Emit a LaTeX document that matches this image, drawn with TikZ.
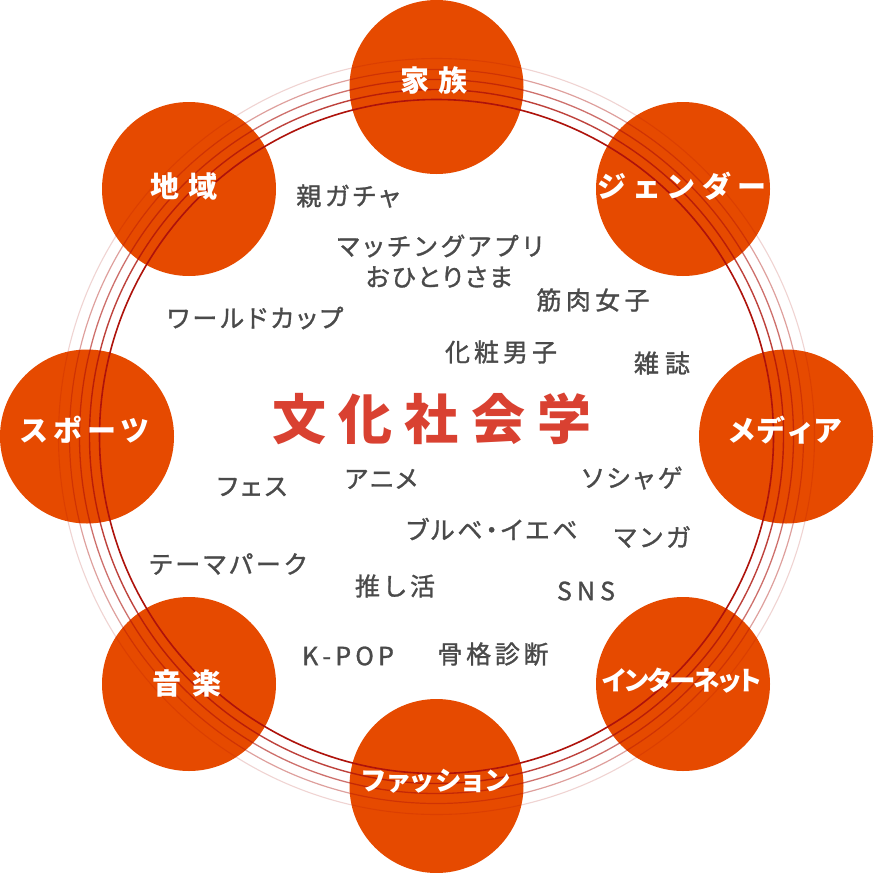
\documentclass[tikz,border=0pt]{standalone}
\usepackage{fontspec}
\newfontfamily\jp[RawFeature=+palt]{Noto Sans CJK JP}
\newfontfamily\jpm[RawFeature=+palt,FakeBold=1.2]{Noto Sans CJK JP}
\definecolor{circ}{HTML}{E64A00}
\definecolor{ringc}{HTML}{AE120B}
\definecolor{titlec}{HTML}{D94131}
\definecolor{wordc}{HTML}{4A4A4A}
\makeatletter
\newdimen\sp@w \newdimen\sp@k \newcount\sp@n
\newcommand\spread[2]{%
  \settowidth\sp@w{#2}%
  \sp@n=0 \@tfor\sp@x:=#2\do{\advance\sp@n by 1 }%
  \ifnum\sp@n>1 \sp@k=\dimexpr(#1-\sp@w)/\numexpr\sp@n-1\relax\relax\else\sp@k=0pt\fi
  \sp@n=0 %
  \@tfor\sp@x:=#2\do{\ifnum\sp@n>0 \kern\sp@k\fi\sp@x\advance\sp@n by 1 }%
}
\makeatother
\tikzset{
  bigc/.style={circle, fill=circ, minimum size=174pt, inner sep=0pt, draw=none},
  clabel/.style={text=white, inner sep=0pt, font=\jp\bfseries\fontsize{29}{29}\selectfont},
  clabels/.style={clabel, font=\jp\bfseries\fontsize{26.5}{26.5}\selectfont},
  word/.style={text=wordc, inner sep=0pt, font=\jpm\fontsize{25}{25}\selectfont},
  titletext/.style={text=titlec, inner sep=0pt, font=\jp\bfseries\fontsize{54}{54}\selectfont},
  ringa/.style={draw=ringc, line width=1.6pt, draw opacity=1},
  ringb/.style={draw=ringc, line width=1.4pt, draw opacity=0.8},
  ringcc/.style={draw=ringc, line width=1.3pt, draw opacity=0.6},
  ringd/.style={draw=ringc, line width=1.2pt, draw opacity=0.4},
  ringe/.style={draw=ringc, line width=1.1pt, draw opacity=0.18}
}
\begin{document}
\begin{tikzpicture}[x=1pt,y=-1pt]
\useasboundingbox (0,0) rectangle (873,873);
\fill[white] (0,0) rectangle (873,873);
\coordinate (o) at (436.5,436.5);
% circles
\node[bigc] (c1) at (436.5,87) {};
\node[bigc] (c2) at (683,189) {};
\node[bigc] (c3) at (786,436.5) {};
\node[bigc] (c4) at (683,684) {};
\node[bigc] (c5) at (436.5,786) {};
\node[bigc] (c6) at (189,684) {};
\node[bigc] (c7) at (87,436.5) {};
\node[bigc] (c8) at (189,189) {};
% rings
\draw[ringa] (o) circle[radius=337];
\draw[ringb] (o) circle[radius=347];
\draw[ringcc] (o) circle[radius=357];
\draw[ringd] (o) circle[radius=367];
\draw[ringe] (o) circle[radius=378];
% circle labels
\node[clabel] (l1) at (434,80) {\spread{68pt}{家族}};
\node[clabel] (l2) at (682,186) {\spread{168pt}{ジェンダー}};
\node[clabel] (l3) at (785,430) {\spread{110pt}{メディア}};
\node[clabels] (l4) at (682,681) {\spread{160pt}{インターネット}};
\node[clabels] (l5) at (436,781) {\spread{148pt}{ファッション}};
\node[clabel] (l6) at (187,683) {\spread{70pt}{音楽}};
\node[clabel] (l7) at (85,430) {\spread{128pt}{スポーツ}};
\node[clabel] (l8) at (184,186) {\spread{68pt}{地域}};
% title
\node[titletext] (t) at (432,419) {\spread{320pt}{文化社会学}};
% keywords
\node[word] (k1) at (348,196) {\spread{103pt}{親ガチャ}};
\node[word] (k2) at (440,246) {\spread{206pt}{マッチングアプリ}};
\node[word] (k3) at (439,277) {\spread{146pt}{おひとりさま}};
\node[word] (k4) at (593,300) {\spread{113pt}{筋肉女子}};
\node[word] (k5) at (255,318) {\spread{176pt}{ワールドカップ}};
\node[word] (k6) at (501,352) {\spread{112pt}{化粧男子}};
\node[word] (k7) at (662,363) {\spread{56pt}{雑誌}};
\node[word] (k8) at (252,487) {\spread{70pt}{フェス}};
\node[word] (k9) at (381,479) {\spread{72pt}{アニメ}};
\node[word] (k10) at (632,478) {\spread{100pt}{ソシャゲ}};
\node[word] (k11) at (492,529) {\spread{171pt}{ブルベ・イエベ}};
\node[word] (k12) at (652,537) {\spread{76pt}{マンガ}};
\node[word] (k13) at (228,564) {\spread{157pt}{テーマパーク}};
\node[word] (k14) at (395,586) {\spread{80pt}{推し活}};
\node[word] (k15) at (586,591) {\spread{58pt}{SNS}};
\node[word] (k16) at (348,656) {\spread{91pt}{K-POP}};
\node[word] (k17) at (493,654) {\spread{111pt}{骨格診断}};
\end{tikzpicture}
\end{document}
